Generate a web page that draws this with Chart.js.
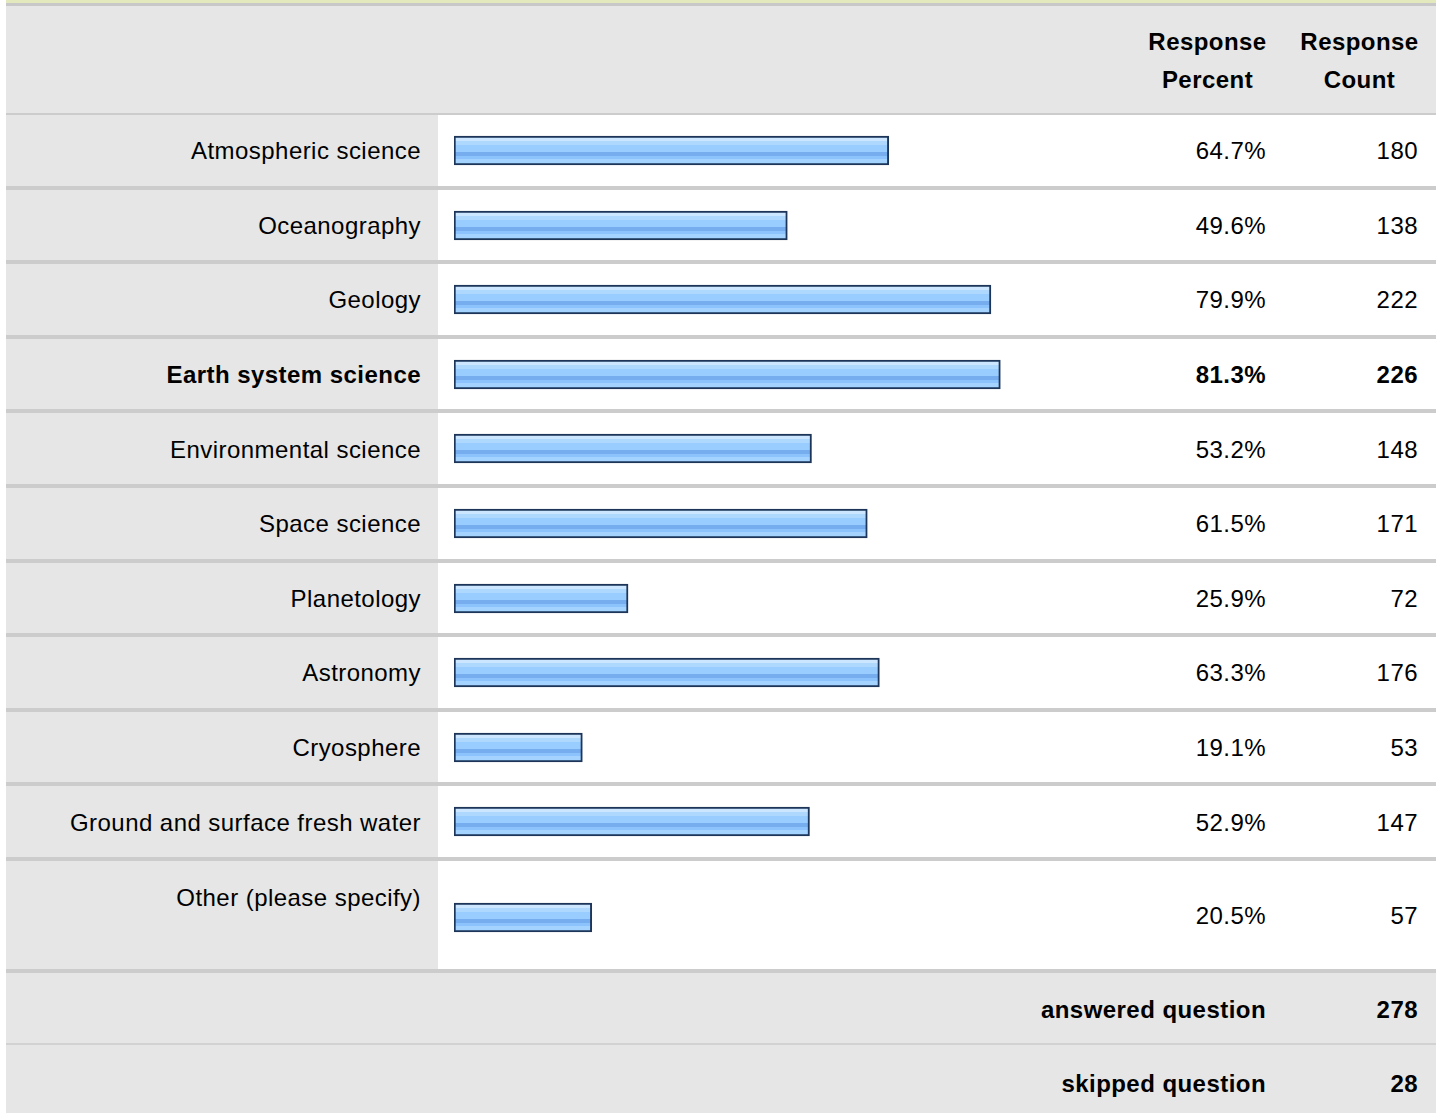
<!DOCTYPE html>
<html>
<head>
<meta charset="utf-8">
<script src="https://cdn.jsdelivr.net/npm/chart.js@4.4.1/dist/chart.umd.min.js"></script>
<style>
  html, body { margin: 0; padding: 0; background: #fff; overflow: hidden; }
  body { width: 1442px; height: 1113px; position: relative;
         font-family: "Liberation Sans", Arial, sans-serif; font-size: 24px;
         letter-spacing: 0.45px; color: #000; }
  #wrap { position: absolute; left: 6px; top: 0; width: 1430px; }
  .band { height: 3.3px; background: #e3e9bd; }
  .line { height: 2.4px; background: #c8c8c8; }
  .row { display: flex; box-sizing: content-box; }
  .row > div { box-sizing: border-box; }
  .head { height: 107.3px; background: #e6e6e6; border-bottom: 2px solid #cccccc; }
  .data { height: 70.6px; border-bottom: 4px solid #cccccc; }
  .data.tall { height: 108px; }
  .c-label { width: 432px; background: #e6e6e6; display: flex; align-items: center;
             justify-content: flex-end; padding-right: 17px; padding-top: 2px; white-space: nowrap; }
  .tall .c-label { align-items: flex-start; padding-top: 23px; }
  .c-bar { width: 694px; background: #fff; position: relative; }
  .c-bar canvas { position: absolute; left: 0; }
  .c-pct { width: 151px; background: #fff; display: flex; align-items: center;
           justify-content: flex-end; padding-right: 17px; padding-top: 2px; }
  .c-cnt { width: 153px; background: #fff; display: flex; align-items: center;
           justify-content: flex-end; padding-right: 18px; padding-top: 2px; }
  .head .c-pct, .head .c-cnt { background: #e6e6e6; justify-content: center;
           padding-right: 0; padding-top: 4px; font-weight: bold; text-align: center; line-height: 38px; }
  .head .c-label, .head .c-bar { background: #e6e6e6; }
  .bold { font-weight: bold; }
  .foot { height: 70px; background: #e6e6e6; font-weight: bold; }
  .foot.first { border-bottom: 2px solid #d2d2d2; }
  .foot.last { height: 74px; }
  .foot .c-sum { width: 1277px; display: flex; align-items: center; justify-content: flex-end;
                 padding-right: 17px; padding-top: 4px; }
  .foot .c-cnt { background: #e6e6e6; padding-top: 4px; }
</style>
</head>
<body>
<div id="wrap">
  <div class="band"></div>
  <div class="line"></div>
  <div class="row head">
    <div class="c-label"></div>
    <div class="c-bar"></div>
    <div class="c-pct">Response<br>Percent</div>
    <div class="c-cnt">Response<br>Count</div>
  </div>
  <div id="rows"></div>
  <div class="row foot first">
    <div class="c-sum">answered question</div>
    <div class="c-cnt" id="answered"></div>
  </div>
  <div class="row foot last">
    <div class="c-sum">skipped question</div>
    <div class="c-cnt" id="skipped"></div>
  </div>
</div>
<script>
(() => {
  "use strict";

  const categories = [
    "Atmospheric science",
    "Oceanography",
    "Geology",
    "Earth system science",
    "Environmental science",
    "Space science",
    "Planetology",
    "Astronomy",
    "Cryosphere",
    "Ground and surface fresh water",
    "Other (please specify)",
  ];
  const percents = [64.7, 49.6, 79.9, 81.3, 53.2, 61.5, 25.9, 63.3, 19.1, 52.9, 20.5];
  const counts = [180, 138, 222, 226, 148, 171, 72, 176, 53, 147, 57];
  const boldRows = [3];
  const answered = 278;
  const skipped = 28;

  // glossy blue stripes of the old survey bars
  const stripes = [
    [0.0, `#cde6ff`], [0.1, `#cde6ff`],
    [0.1, `#afd8ff`], [0.27, `#afd8ff`],
    [0.27, `#99ccff`], [0.58, `#99ccff`],
    [0.58, `#76adee`], [0.72, `#76adee`],
    [0.72, `#8cc3fc`], [0.84, `#8cc3fc`],
    [0.84, `#a5d3ff`], [1.0, `#a5d3ff`],
  ];

  function barFill(c) {
    const { chart } = c;
    const area = chart.chartArea;
    if (!area) return `#99ccff`;
    const mid = (area.top + area.bottom) / 2;
    const g = chart.ctx.createLinearGradient(0, mid - 12.5, 0, mid + 12.5);
    stripes.forEach(([o, col]) => g.addColorStop(o, col));
    return g;
  }

  const rowsEl = document.getElementById(`rows`);
  const charts = [];

  categories.forEach((cat, i) => {
    const last = i === categories.length - 1;
    const bold = boldRows.includes(i) ? ` bold` : ``;
    const row = document.createElement(`div`);
    row.className = `row data` + (last ? ` tall` : ``);
    row.innerHTML =
      `<div class="c-label${bold}">${cat}</div>` +
      `<div class="c-bar"><canvas width="694" height="41"></canvas></div>` +
      `<div class="c-pct${bold}">${percents[i].toFixed(1)}%</div>` +
      `<div class="c-cnt${bold}">${counts[i]}</div>`;
    rowsEl.appendChild(row);

    const h = last ? 108 : 70.6;
    const canvas = row.querySelector(`canvas`);
    canvas.style.top = `${Math.round(h / 2 - 20.5 + (last ? 2 : 0))}px`;

    charts.push(
      new Chart(canvas, {
        type: `bar`,
        data: {
          labels: [cat],
          datasets: [
            {
              data: [percents[i]],
              backgroundColor: barFill,
              borderColor: `#1c3559`,
              borderWidth: 2,
              borderSkipped: false,
              barThickness: 29,
            },
          ],
        },
        options: {
          indexAxis: `y`,
          responsive: false,
          animation: false,
          events: [],
          layout: { padding: { left: 16, right: 6, top: 0, bottom: 0 } },
          scales: {
            x: { display: false, min: 0, max: 100 },
            y: { display: false },
          },
          plugins: {
            legend: { display: false },
            tooltip: { enabled: false },
          },
        },
      })
    );
  });

  document.getElementById(`answered`).textContent = answered;
  document.getElementById(`skipped`).textContent = skipped;
})();
</script>
</body>
</html>
